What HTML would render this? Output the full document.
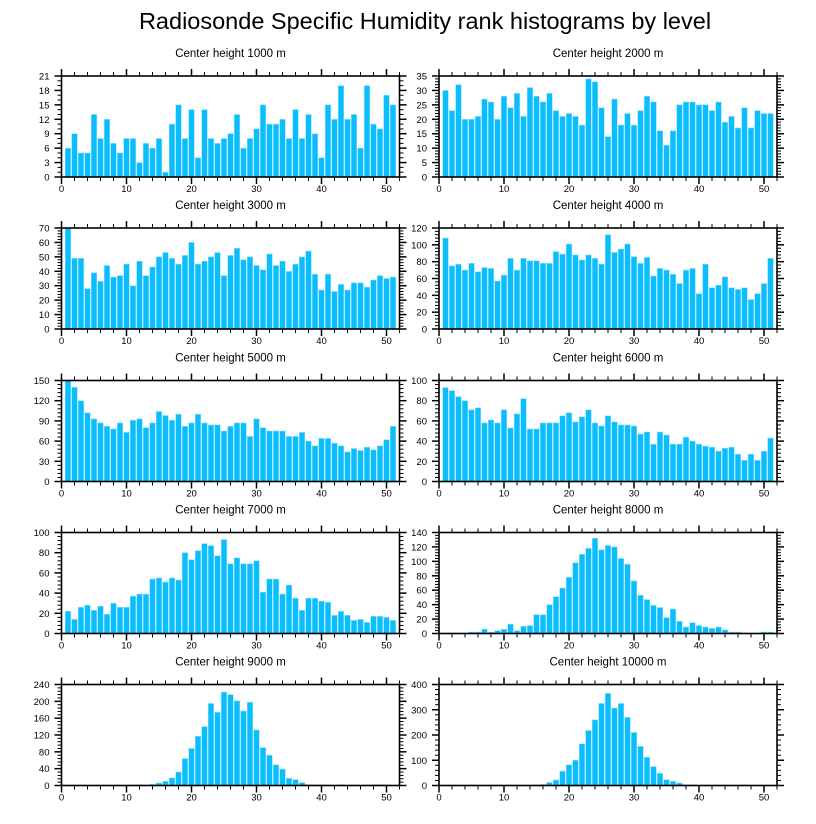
<!DOCTYPE html>
<html><head><meta charset="utf-8">
<style>
html,body{margin:0;padding:0;background:#fff;}
svg{display:block;font-family:"Liberation Sans",sans-serif;}
</style></head>
<body>
<svg id="chart" width="816" height="824" viewBox="0 0 816 824" xmlns="http://www.w3.org/2000/svg">
<text x="425" y="29" font-size="23.5" text-anchor="middle" fill="#000">Radiosonde Specific Humidity rank histograms by level</text>
</svg>
<script>
const levels = [1000,2000,3000,4000,5000,6000,7000,8000,9000,10000];
const yMax = [21,35,70,120,150,100,100,140,240,400];
const yStep = [3,5,10,20,30,20,20,20,40,100];
const xTicks = [0,10,20,30,40,50];
const h1000 = [6,9,5,5,13,8,12,7,5,8,8,3,7,6,8,1,11,15,8,14,4,14,8,7,8,9,13,6,8,10,15,11,11,12,8,14,8,13,9,4,15,12,19,12,13,6,19,11,10,17,15];
const h2000 = [30,23,32,20,20,21,27,26,20,28,24,29,21,31,28,26,29,23,21,22,21,18,34,33,24,14,27,18,22,18,23,28,26,16,11,16,25,26,26,25,25,23,26,19,21,17,24,17,23,22,22];
const h3000 = [70,49,49,28,39,33,44,36,37,45,30,47,37,43,50,53,49,45,51,60,45,47,50,53,37,51,56,48,50,44,41,52,44,47,40,45,50,54,38,27,38,26,31,27,32,32,29,34,37,35,36];
const h4000 = [108,75,77,70,78,68,73,72,57,64,84,70,84,81,81,78,78,92,89,101,88,82,88,84,77,112,91,95,101,86,78,85,63,72,70,65,54,70,72,42,77,49,52,62,49,47,49,35,42,54,84];
const h5000 = [150,140,120,102,93,87,82,78,87,73,91,93,80,87,104,98,91,100,82,87,100,87,84,84,75,82,87,87,67,93,80,75,75,75,67,67,73,60,53,64,64,57,53,44,49,46,51,47,53,62,82];
const h6000 = [93,90,84,80,71,73,58,61,58,71,53,67,82,52,52,58,58,58,65,68,59,64,71,58,55,65,59,56,56,55,47,49,37,49,46,37,37,44,40,37,35,34,30,33,34,27,21,27,21,30,43];
const h7000 = [22,14,26,28,23,27,19,30,26,26,37,39,39,54,55,51,55,53,80,73,82,89,87,77,93,69,75,69,69,72,41,54,54,39,48,35,23,35,35,32,31,18,22,18,13,14,11,17,17,16,13];
const h8000 = [0,0,0,0,2,2,6,2,4,6,13,4,10,11,26,26,40,51,63,78,98,110,118,132,116,122,120,104,96,73,53,47,39,36,22,34,17,9,15,11,9,7,9,5,2,2,0,0,0,2,2];
const h9000 = [0,0,0,0,0,0,0,0,0,0,1,2,1,3,6,10,18,32,64,88,117,140,195,174,222,216,201,177,198,132,90,72,49,39,17,14,7,2,1,2,1,0,2,1,1,0,1,2,2,2,1];
const h10000 = [0,0,0,0,0,0,0,0,0,0,0,0,0,1,2,4,12,22,57,82,100,165,218,260,325,365,307,325,270,210,155,112,75,48,23,17,10,3,2,1,0,0,0,0,0,0,0,0,0,0,0];
const series = [h1000,h2000,h3000,h4000,h5000,h6000,h7000,h8000,h9000,h10000];

const NS = "http://www.w3.org/2000/svg";
const svg = document.getElementById("chart");
function mk(tag, attrs, parent){
  const e = document.createElementNS(NS, tag);
  for (const k in attrs) e.setAttribute(k, attrs[k]);
  (parent||svg).appendChild(e);
  return e;
}
const plotW = 338, plotH = 101, xMax = 52;
const lefts = [61.5, 439];
const tops = [76, 228, 380.5, 532.5, 684.5];

series.forEach((vals, p) => {
  const col = p % 2, row = Math.floor(p / 2);
  const L = lefts[col], T = tops[row], B = T + plotH, R = L + plotW;
  const xs = v => L + v / xMax * plotW;
  const ys = v => B - v / yMax[p] * plotH;
  const g = mk("g", {});
  
  
  const t = mk("text", {x: (L+R)/2, y: T - 19, "font-size": 11.5, "text-anchor": "middle", fill: "#000"}, g);
  
  
  t.textContent = "Center height " + levels[p] + " m";
  vals.forEach((v, i) => {
    if (v <= 0) return;
    const x = xs(i + 1), w = 0.86 * plotW / xMax;
    const r = mk("rect", {x: x - w/2, y: ys(v), width: w, height: B - ys(v), fill: "#0cbdfc", stroke: "#8fe0ff", "stroke-width": 0.6}, g);
    
    
  });
  const f = mk("rect", {x: L, y: T, width: plotW, height: plotH, fill: "none", stroke: "#000", "stroke-width": 1.6}, g);
  
  
  for (let v = 0; v <= xMax; v += 2) {
    const x = xs(v), major = v % 10 === 0, len = major ? 7 : 4;
    mk("line", {x1: x, x2: x, y1: B, y2: B + len, stroke: "#000", "stroke-width": major ? 1.5 : 1}, g);
    mk("line", {x1: x, x2: x, y1: T, y2: T - len, stroke: "#000", "stroke-width": major ? 1.5 : 1}, g);
  }
  xTicks.forEach(v => {
    const tl = mk("text", {x: xs(v), y: B + 15, "font-size": 9.5, "text-anchor": "middle", fill: "#000"}, g);
    
    
    tl.textContent = v;
  });
  const minor = yStep[p] % 3 === 0 && yStep[p] < 10 ? yStep[p] / 3 : yStep[p] / 5;
  for (let v = 0; v <= yMax[p] + 1e-9; v += minor) {
    const y = ys(v), major = Math.abs(v / yStep[p] - Math.round(v / yStep[p])) < 1e-6, len = major ? 7 : 4;
    mk("line", {x1: L, x2: L - len, y1: y, y2: y, stroke: "#000", "stroke-width": major ? 1.5 : 1}, g);
    mk("line", {x1: R, x2: R + len, y1: y, y2: y, stroke: "#000", "stroke-width": major ? 1.5 : 1}, g);
  }
  for (let v = 0; v <= yMax[p]; v += yStep[p]) {
    const tl = mk("text", {x: L - 12, y: ys(v) + 3.5, "font-size": 9.5, "text-anchor": "end", fill: "#000"}, g);
    
    
    tl.textContent = v;
  }
});
</script>
</body></html>
